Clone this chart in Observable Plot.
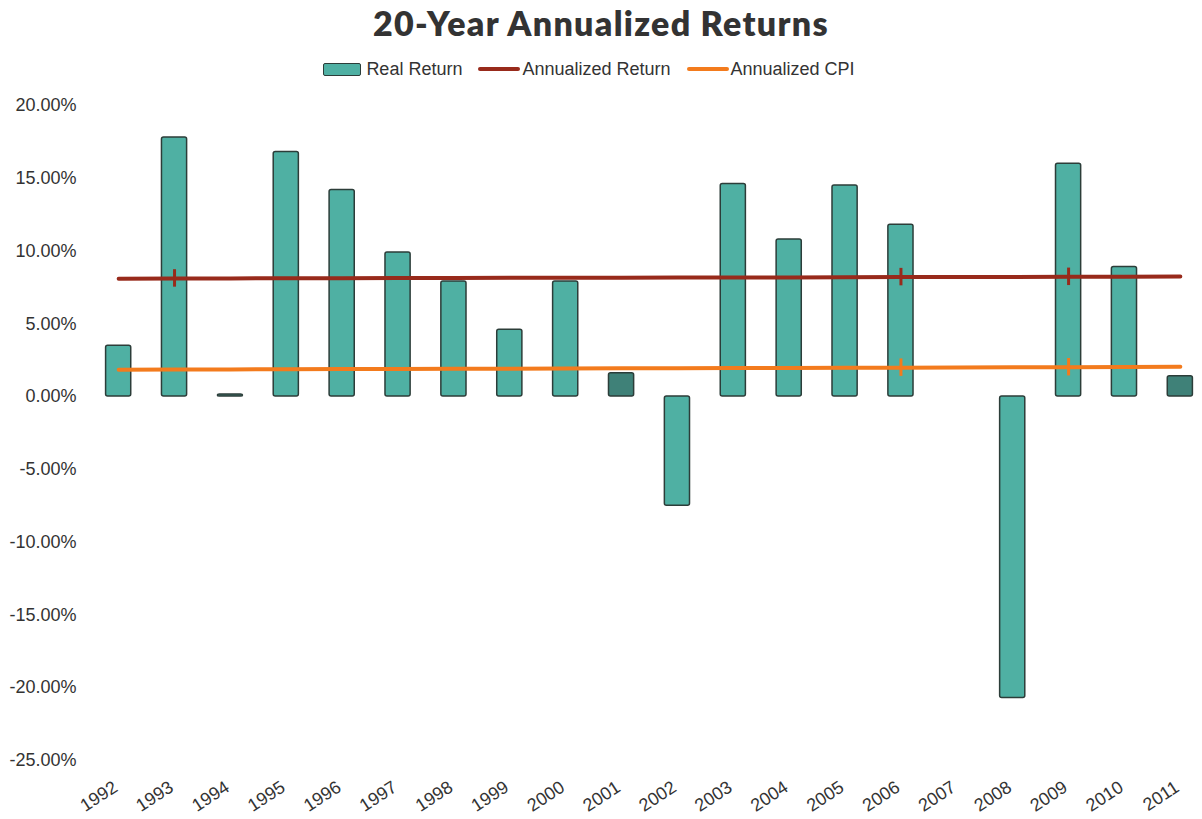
<!DOCTYPE html>
<html><head><meta charset="utf-8">
<script src="https://cdn.jsdelivr.net/npm/d3@7"></script>
<script src="https://cdn.jsdelivr.net/npm/@observablehq/plot@0.6"></script>
<style>
body{margin:0;background:#fff;font-family:"Liberation Sans",Arial,sans-serif;color:#333;}
#title{height:50px;text-align:center;font-family:Lato,"DejaVu Sans",sans-serif;font-weight:800;font-size:34px;letter-spacing:1.3px;color:#333;line-height:46px;}
#legend{height:38px;display:flex;justify-content:center;align-items:center;font-size:18px;color:#333;margin-left:-24px;}
.item{display:flex;align-items:center;margin:0 8px;}
.sw{display:inline-block;margin-right:5px;}
#chart svg{display:block;}
</style></head>
<body>
<div id="title">20-Year Annualized Returns</div>
<div id="legend"></div>
<div id="chart"></div>
<script>
const years = ["1992","1993","1994","1995","1996","1997","1998","1999","2000","2001","2002","2003","2004","2005","2006","2007","2008","2009","2010","2011"];
const realReturn = [3.5,17.8,0.15,16.8,14.2,9.9,7.9,4.6,7.9,1.6,-7.5,14.6,10.8,14.5,11.8,null,-20.7,16.0,8.9,1.4];
const annualizedReturn = [8.10,8.12,8.12,8.13,8.14,8.15,8.15,8.16,8.17,8.17,8.18,8.19,8.19,8.20,8.21,8.22,8.22,8.23,8.24,8.25];
const annualizedCPI = [1.85,1.86,1.87,1.88,1.89,1.90,1.91,1.92,1.93,1.94,1.95,1.96,1.97,1.98,1.99,2.00,2.01,2.02,2.03,2.05];
const yTicks = [-25,-20,-15,-10,-5,0,5,10,15,20];
const returnMarkYears = ["1993","2006","2009"];
const cpiMarkYears = ["2006","2009"];
const legendItems = ["Real Return","Annualized Return","Annualized CPI"];

const colReal = "#4fb0a3", colRealDark = "#3f8178", colRet = "#982a1b", colCpi = "#f37b1d";

const rows = years.map((y,i)=>({year:y, real:realReturn[i], ret:annualizedReturn[i], cpi:annualizedCPI[i]}));

// legend
const lg = document.getElementById("legend");
legendItems.forEach((name,i)=>{
  const it = document.createElement("div"); it.className="item";
  const sw = document.createElement("span"); sw.className="sw";
  if(i===0){ sw.style.cssText="width:36px;height:11px;background:"+colReal+";border:1.5px solid #2c3d39;border-radius:2px;"; }
  else { sw.style.cssText="width:42px;height:4px;background:"+(i===1?colRet:colCpi)+";border-radius:2px;margin-right:2px;"; }
  it.appendChild(sw);
  const t = document.createElement("span"); t.textContent=name; it.appendChild(t);
  lg.appendChild(it);
});

const chart = Plot.plot({
  width:1202, height:731,
  marginTop:17, marginBottom:59, marginLeft:100, marginRight:4,
  x:{domain:years, paddingInner:0.55, paddingOuter:0.1, round:false, axis:null},
  y:{domain:[-25,20], axis:null},
  style:{fontFamily:"Liberation Sans, Arial, sans-serif", fontSize:"18px", color:"#333", background:"#fff"},
  marks:[
    Plot.barY(rows.filter(d=>d.real!=null), {x:"year", y:"real",
      fill:d=>Math.abs(d.real)<2?colRealDark:colReal, stroke:"#2c3d39", strokeWidth:1.5, rx:2}),
    Plot.line(rows, {x:"year", y:"ret", stroke:colRet, strokeWidth:4}),
    Plot.line(rows, {x:"year", y:"cpi", stroke:colCpi, strokeWidth:4}),
    Plot.ruleX(rows.filter(d=>returnMarkYears.includes(d.year)), {x:"year", y1:d=>d.ret-0.6, y2:d=>d.ret+0.6, stroke:colRet, strokeWidth:3}),
    Plot.ruleX(rows.filter(d=>cpiMarkYears.includes(d.year)), {x:"year", y1:d=>d.cpi-0.6, y2:d=>d.cpi+0.6, stroke:colCpi, strokeWidth:3}),
    Plot.axisY({ticks:yTicks, tickFormat:d=>d.toFixed(2)+"%", tickSize:0, tickPadding:24, fontSize:18}),
    Plot.axisX({tickRotate:-33, tickSize:0, tickPadding:25, fontSize:18, dx:-3, label:null})
  ]
});
document.getElementById("chart").appendChild(chart);
</script>
</body></html>
